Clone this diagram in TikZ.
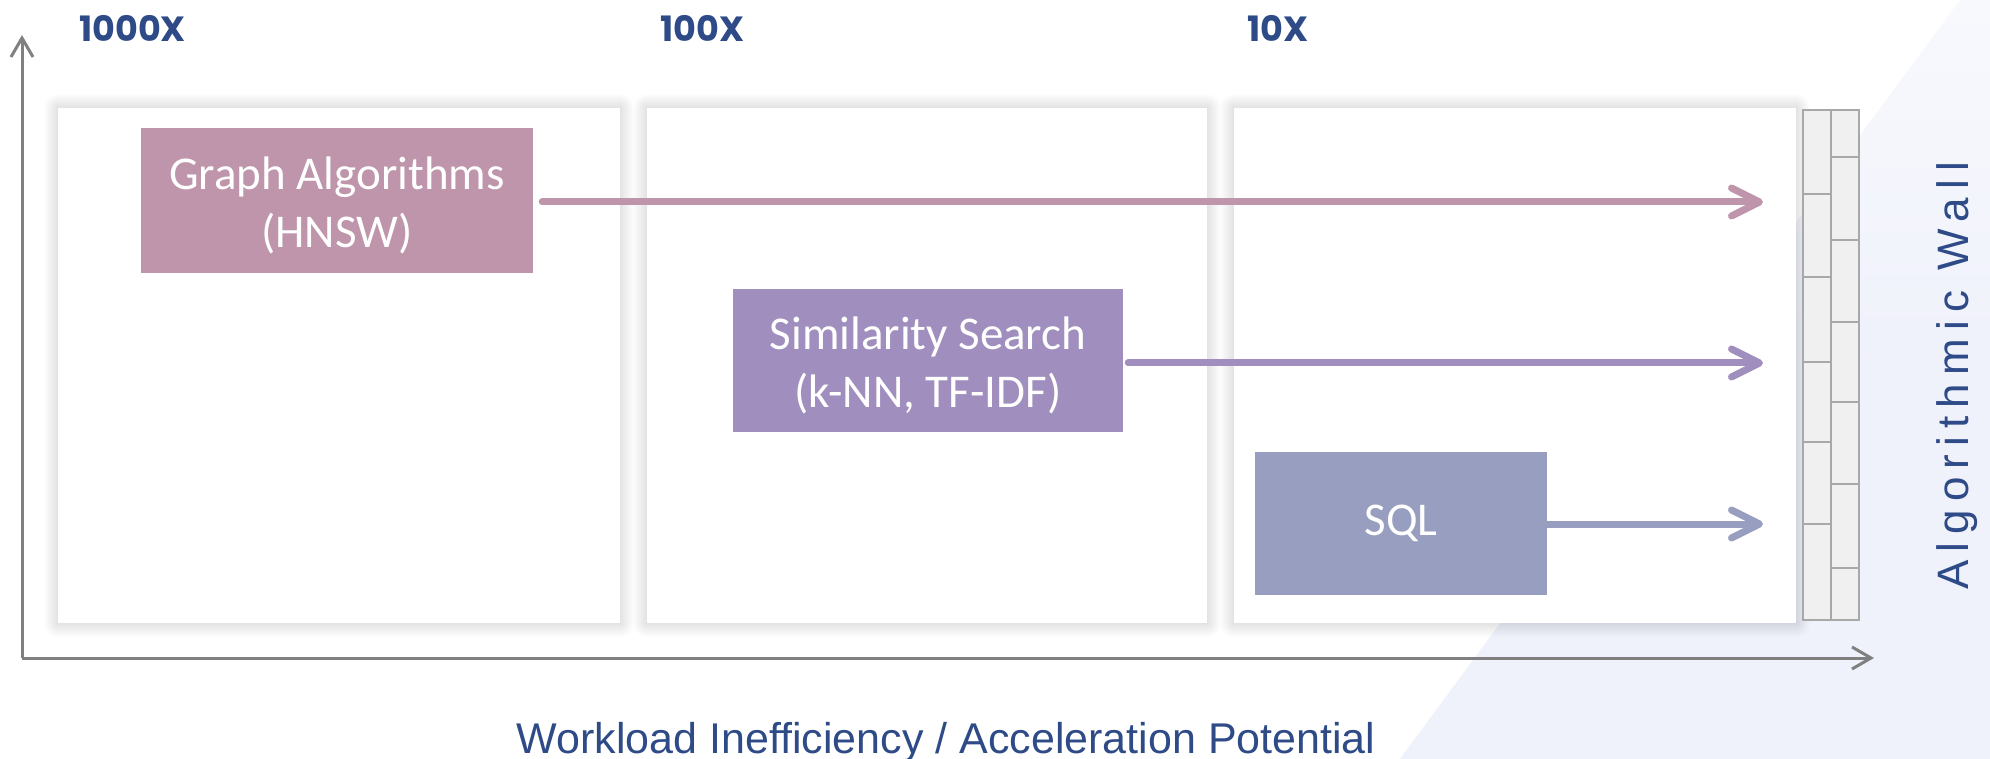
\documentclass[tikz,border=0pt]{standalone}
\usepackage{fontspec}
\usetikzlibrary{arrows.meta}
\newfontfamily\boxfont{Carlito}
\newfontfamily\capfont{Liberation Sans}
\newfontfamily\wallfont[LetterSpace=18.5]{Liberation Sans}
\newfontfamily\labfont{Poppins}
\definecolor{navy}{HTML}{2E4B88}
\definecolor{graphc}{HTML}{BE95AA}
\definecolor{simc}{HTML}{A08FBE}
\definecolor{sqlc}{HTML}{979EC0}
\definecolor{axisc}{HTML}{808080}
\definecolor{bgc}{HTML}{EFF1FB}
\definecolor{bgtop}{HTML}{F8F9FD}
\definecolor{brick}{HTML}{F0F0F0}
\definecolor{brickline}{HTML}{A8A8A8}
\newcommand{\twolines}[2]{\raisebox{-6pt}[\height][\depth]{\begin{tabular}{@{}c@{}}#1\\#2\end{tabular}}}
\begin{document}
\begin{tikzpicture}[x=1pt,y=-1pt,
  algbox/.style={rectangle, inner sep=0pt, text=white,
    font=\boxfont\fontsize{47}{58}\selectfont},
  flow/.style={line width=7pt, line cap=round, -{Straight Barb[length=28pt,width=28pt,round]}},
  axisline/.style={axisc, line width=3pt, -{Straight Barb[length=19pt,width=22pt]}},
  tier/.style={anchor=west, text=navy, inner sep=0pt,
    font=\labfont\bfseries\fontsize{35}{40}\selectfont},
  panelbg/.style={fill=white},
  wallline/.style={draw=brickline, line width=1.5pt},
]
\useasboundingbox (0,0) rectangle (1990,759);
\fill[white] (0,0) rectangle (1990,759);
% pale background band
\shade[top color=bgtop, bottom color=bgc, middle color=bgc] (1960,0) -- (1990,0) -- (1990,759) -- (1400,759) -- cycle;

% panels with soft shadow
\foreach \xa/\xb in {58/620, 647/1207, 1234/1796}{
  \foreach \i in {1,...,14}{
    \fill[black, opacity=0.007, rounded corners=\i pt] (\xa-\i,108-\i) rectangle (\xb+\i,623+\i);
  }
  \fill[panelbg] (\xa,108) rectangle (\xb,623);
}

% algorithmic wall
\fill[brick] (1803,110) rectangle (1859,620);
\draw[wallline] (1803,110) rectangle (1859,620);
\draw[wallline] (1831,110) -- (1831,620);
\foreach \y in {194,277,362,442,524}{ \draw[wallline] (1803,\y) -- (1831,\y); }
\foreach \y in {157,240,322,402,484,568}{ \draw[wallline] (1831,\y) -- (1859,\y); }

% axes
\coordinate (o) at (22,658);
\coordinate (ytip) at (22,35);
\coordinate (xtip) at (1874,658);
\draw[axisline] (o) -- (ytip);
\draw[axisline] (o) -- (xtip);

% tier labels
\node[tier] (t1) at (79,28) {1000X};
\node[tier] (t2) at (660,28) {100X};
\node[tier] (t3) at (1247,28) {10X};

% workload boxes
\node[algbox, fill=graphc, minimum width=392pt, minimum height=145pt] (g) at (337,200.5) {\twolines{Graph Algorithms}{(HNSW)}};
\node[algbox, fill=simc, minimum width=390pt, minimum height=143pt] (s) at (928,360.5) {\twolines{Similarity Search}{(k-NN, TF-IDF)}};
\node[algbox, fill=sqlc, minimum width=292pt, minimum height=143pt] (q) at (1401,523.5) {SQL};

% arrows to wall
\coordinate (wg) at (1763,202);
\coordinate (ws) at (1763,363);
\coordinate (wq) at (1763,524);
\draw[flow, graphc] ([xshift=9pt,yshift=-1.5pt]g.east) -- (wg);
\draw[flow, simc] ([xshift=5pt,yshift=-2.5pt]s.east) -- (ws);
\draw[flow, sqlc] ([yshift=-0.5pt]q.east) -- (wq);

% texts
\node[rotate=90, anchor=base, text=navy, inner sep=0pt,
  font=\wallfont\fontsize{44}{50}\selectfont] (wl) at (1968,376) {Algorithmic Wall};
\node[anchor=base, text=navy, inner sep=0pt,
  font=\capfont\fontsize{43}{50}\selectfont] (cap) at (946,753) {Workload Inefficiency / Acceleration Potential};
\end{tikzpicture}
\end{document}
